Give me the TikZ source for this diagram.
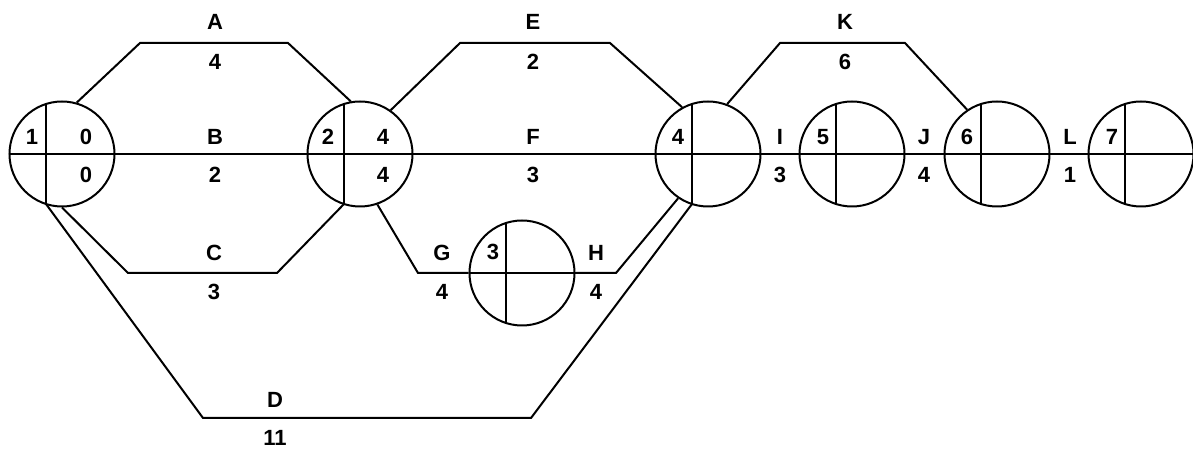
\documentclass[tikz,border=0pt]{standalone}
\usepackage{fontspec}
\setmainfont{Liberation Sans}
\begin{document}
\begin{tikzpicture}[x=0.5pt,y=-0.5pt,
  ev/.style={circle,draw,line width=1pt,minimum size=52.5pt,inner sep=0pt},
  lab/.style={font=\fontsize{11}{13}\selectfont\bfseries,inner sep=0pt},
  act/.style={line width=1pt,line join=miter}]
\useasboundingbox[fill=white] (0,0) rectangle (1193,453);
% events
\node[ev] (n1) at (62,154) {};
\node[ev] (n2) at (360,154) {};
\node[ev] (n3) at (522,273) {};
\node[ev] (n4) at (708,154) {};
\node[ev] (n5) at (852,154) {};
\node[ev] (n6) at (997,154) {};
\node[ev] (n7) at (1141,154) {};
% dividers
\foreach \n in {n1,n2,n3,n4,n5,n6,n7}{
  \coordinate (\n t) at ([shift={(-16,-50)}]\n.center);
  \coordinate (\n d) at ([shift={(-16,50)}]\n.center);
  \draw[act] (\n t) -- (\n d);
  \draw[act] (\n.west) -- (\n.east);
}
% activities
\draw[act] (n1.74) -- (140,43) -- (288,43) -- (n2.100);   % A
\draw[act] (n1.east) -- (n2.west);                          % B
\draw[act] (n1.south) -- (128,273) -- (277,273) -- (n2d);   % C
\draw[act] (n1d) -- (203,418) -- (531,418) -- (n4d);        % D
\draw[act] (n2.55) -- (460,43) -- (610,43) -- (n4.119.5);   % E
\draw[act] (n2.east) -- (n4.west);                          % F
\draw[act] (n2.-71) -- (418,273) -- (n3.west);              % G
\draw[act] (n3.east) -- (616,273) -- (n4.-124);             % H
\draw[act] (n4.east) -- (n5.west);                          % I
\draw[act] (n5.east) -- (n6.west);                          % J
\draw[act] (n4.69.6) -- (780,43) -- (905,43) -- (n6.124);   % K
\draw[act] (n6.east) -- (n7.west);                          % L
% activity labels
\node[lab] (lA) at (215,22) {A};   \node[lab] (dA) at (215,62) {4};
\node[lab] (lB) at (215,137) {B};  \node[lab] (dB) at (215,175) {2};
\node[lab] (lC) at (214,253) {C};  \node[lab] (dC) at (214,292) {3};
\node[lab] (lD) at (275,400) {D};  \node[lab] (dD) at (275,438) {11};
\node[lab] (lE) at (533,22) {E};   \node[lab] (dE) at (533,62) {2};
\node[lab] (lF) at (533,137) {F};  \node[lab] (dF) at (533,175) {3};
\node[lab] (lG) at (442,253) {G};  \node[lab] (dG) at (442,292) {4};
\node[lab] (lH) at (596,253) {H};  \node[lab] (dH) at (596,292) {4};
\node[lab] (lI) at (780,137) {I};  \node[lab] (dI) at (780,175) {3};
\node[lab] (lJ) at (924,137) {J};  \node[lab] (dJ) at (924,175) {4};
\node[lab] (lK) at (845,22) {K};   \node[lab] (dK) at (845,62) {6};
\node[lab] (lL) at (1070,137) {L}; \node[lab] (dL) at (1070,175) {1};
% event labels
\node[lab] (e1) at (32,137) {1};
\node[lab] (e1a) at (86,137) {0};
\node[lab] (e1b) at (86,175) {0};
\node[lab] (e2) at (328,137) {2};
\node[lab] (e2a) at (383,137) {4};
\node[lab] (e2b) at (383,175) {4};
\node[lab] (e3) at (493,252) {3};
\node[lab] (e4) at (678,137) {4};
\node[lab] (e5) at (823,137) {5};
\node[lab] (e6) at (967,137) {6};
\node[lab] (e7) at (1112,137) {7};
\end{tikzpicture}
\end{document}
